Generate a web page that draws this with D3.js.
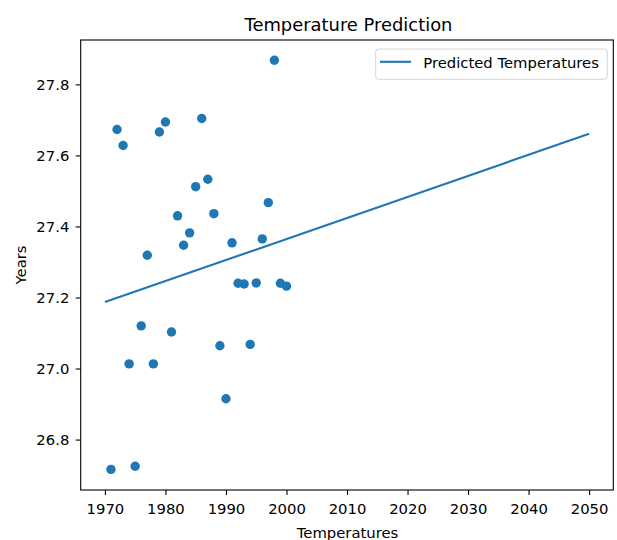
<!DOCTYPE html>
<html>
<head>
<meta charset="utf-8">
<script src="https://cdn.jsdelivr.net/npm/d3@7"></script>
<style>
  body { margin: 0; background: #fff; }
  svg { display: block; font-family: "DejaVu Sans", sans-serif; }
</style>
</head>
<body>
<svg id="chart" width="617" height="540"></svg>
<script>
// Data
const years = [1971,1972,1973,1974,1975,1976,1977,1978,1979,1980,1981,1982,1983,1984,1985,
               1986,1987,1988,1989,1990,1991,1992,1993,1994,1995,1996,1997,1998,1999,2000];
const temps = [26.716,27.673,27.628,27.013,26.725,27.120,27.319,27.013,27.666,27.694,
               27.103,27.430,27.347,27.382,27.512,27.704,27.533,27.436,27.064,26.915,
               27.354,27.240,27.238,27.068,27.241,27.365,27.467,27.868,27.240,27.232];
const predYears = [1970, 2050];
const predTemps = [27.187, 27.661];
const xTicks = [1970,1980,1990,2000,2010,2020,2030,2040,2050];
const yTicks = [26.8,27.0,27.2,27.4,27.6,27.8];
const title = "Temperature Prediction";
const xLabel = "Temperatures";
const yLabel = "Years";
const legendLabel = "Predicted Temperatures";

const color = "#1f77b4";
const fs = 14.8;
const svg = d3.select("#chart");
const L = 80.7, R = 613.3, T = 40, B = 490;

const x = d3.scaleLinear().domain([1966, 2054]).range([L, R]);
const y = d3.scaleLinear().domain([26.658, 27.925]).range([B, T]);

// points
svg.append("g").selectAll("circle")
  .data(years.map((d, i) => [d, temps[i]]))
  .join("circle")
  .attr("cx", d => x(d[0]))
  .attr("cy", d => y(d[1]))
  .attr("r", 4.7)
  .attr("fill", color);

// line
const line = d3.line().x(d => x(d[0])).y(d => y(d[1]));
svg.append("path")
  .datum(predYears.map((d, i) => [d, predTemps[i]]))
  .attr("d", line)
  .attr("fill", "none")
  .attr("stroke", color)
  .attr("stroke-width", 2.1);

// axes
const xAxis = d3.axisBottom(x).tickValues(xTicks).tickFormat(d3.format("d")).tickSize(5).tickPadding(8.5);
const yAxis = d3.axisLeft(y).tickValues(yTicks).tickFormat(d3.format(".1f")).tickSize(5).tickPadding(6.4);

const gx = svg.append("g").attr("transform", `translate(0,${B})`).call(xAxis);
const gy = svg.append("g").attr("transform", `translate(${L},0)`).call(yAxis);
[gx, gy].forEach(g => {
  g.select(".domain").remove();
  g.selectAll("line").attr("stroke", "#000").attr("stroke-width", 1.1);
  g.selectAll("text").attr("font-size", fs).attr("fill", "#000")
    .attr("font-family", "DejaVu Sans, sans-serif");
});

// frame
svg.append("rect")
  .attr("x", L).attr("y", T).attr("width", R - L).attr("height", B - T)
  .attr("fill", "none").attr("stroke", "#000").attr("stroke-width", 1.1);

// title & labels
svg.append("text").attr("x", 348.5).attr("y", 31)
  .attr("text-anchor", "middle").attr("font-size", 17.9).text(title);
svg.append("text").attr("x", 347.5).attr("y", 538)
  .attr("text-anchor", "middle").attr("font-size", fs).text(xLabel);
svg.append("text").attr("transform", `translate(26,${(T + B) / 2}) rotate(-90)`)
  .attr("text-anchor", "middle").attr("font-size", fs).text(yLabel);

// legend
const lg = svg.append("g");
lg.append("rect").attr("x", 375.7).attr("y", 49).attr("width", 231.6).attr("height", 30.3)
  .attr("rx", 3).attr("fill", "#fff").attr("fill-opacity", 0.8)
  .attr("stroke", "#d6d6d6").attr("stroke-width", 1);
lg.append("line").attr("x1", 380).attr("x2", 411).attr("y1", 61.8).attr("y2", 61.8)
  .attr("stroke", color).attr("stroke-width", 2.1);
lg.append("text").attr("x", 423.3).attr("y", 67.5).attr("font-size", fs).text(legendLabel);
</script>
</body>
</html>
